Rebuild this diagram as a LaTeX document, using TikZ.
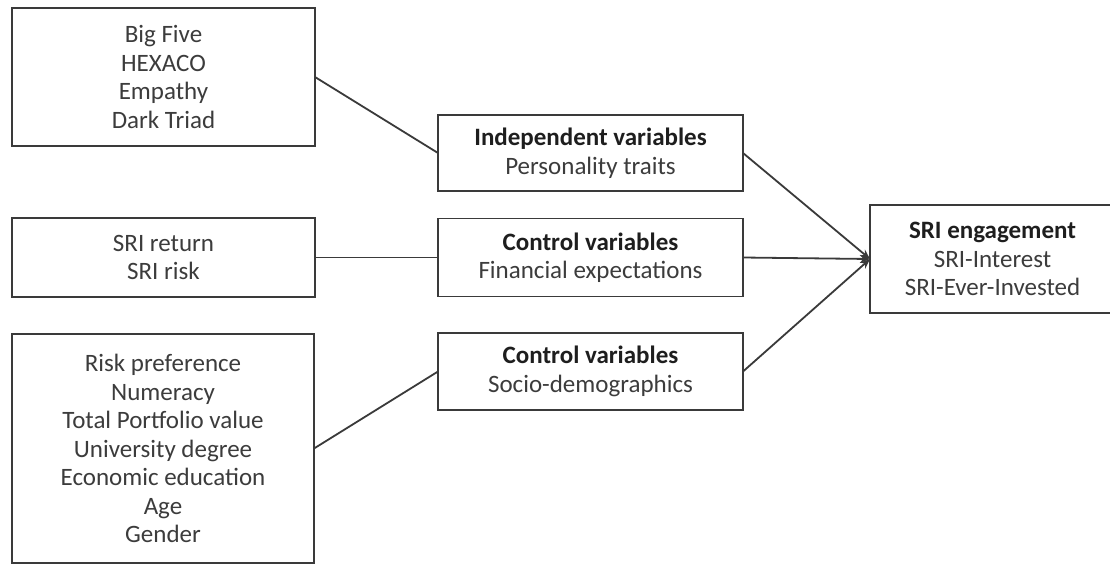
\documentclass[tikz,border=0pt]{standalone}
\usepackage{fontspec}
\setmainfont{Carlito}
\usetikzlibrary{arrows.meta}
\definecolor{txt}{HTML}{3C3C3C}
\definecolor{hd}{HTML}{1E1E1E}
\definecolor{ln}{HTML}{3A3A3A}
\begin{document}
\begin{tikzpicture}[x=1pt,y=-1pt,
  box/.style={draw=ln, line width=1.8pt, fill=white, inner sep=0pt, outer sep=0pt,
    align=center, text=txt, font=\fontsize{25}{28.5}\selectfont},
  link/.style={draw=ln, line width=1.8pt},
  arr/.style={link, -{Stealth[length=10pt,width=8pt]}}]
\clip (0,0) rectangle (1110,565);
\fill[white] (0,0) rectangle (1110,565);
% source boxes
\node[box, minimum width=303pt, minimum height=138pt] (traits) at (163.5,77)
  {Big Five\\HEXACO\\Empathy\\Dark Triad};
\node[box, minimum width=303pt, minimum height=79pt] (fin) at (163.5,257.5)
  {SRI return\\SRI risk};
\node[box, minimum width=302pt, minimum height=229pt] (socio) at (163,448.5)
  {Risk preference\\Numeracy\\Total Portfolio value\\University degree\\Economic education\\Age\\Gender};
% variable groups
\node[box, minimum width=305pt, minimum height=76pt] (ind) at (590.5,153)
  {{\color{hd}\bfseries Independent variables}\\Personality traits};
\node[box, minimum width=305pt, minimum height=78pt] (ctl1) at (590.5,257.5)
  {{\color{hd}\bfseries Control variables}\\Financial expectations};
\node[box, minimum width=305pt, minimum height=77pt] (ctl2) at (590.5,371.5)
  {{\color{hd}\bfseries Control variables}\\Socio-demographics};
% outcome
\node[box, minimum width=245pt, minimum height=108pt] (sri) at (992.5,259)
  {{\color{hd}\bfseries SRI engagement}\\SRI-Interest\\SRI-Ever-Invested};
% connectors
\draw[link] (traits.east) -- (ind.west);
\draw[link] (fin.east) -- (ctl1.west);
\draw[link] (socio.east) -- (ctl2.west);
\draw[arr] (ind.east) -- (sri.west);
\draw[arr] (ctl1.east) -- (sri.west);
\draw[arr] (ctl2.east) -- (sri.west);
\end{tikzpicture}
\end{document}
